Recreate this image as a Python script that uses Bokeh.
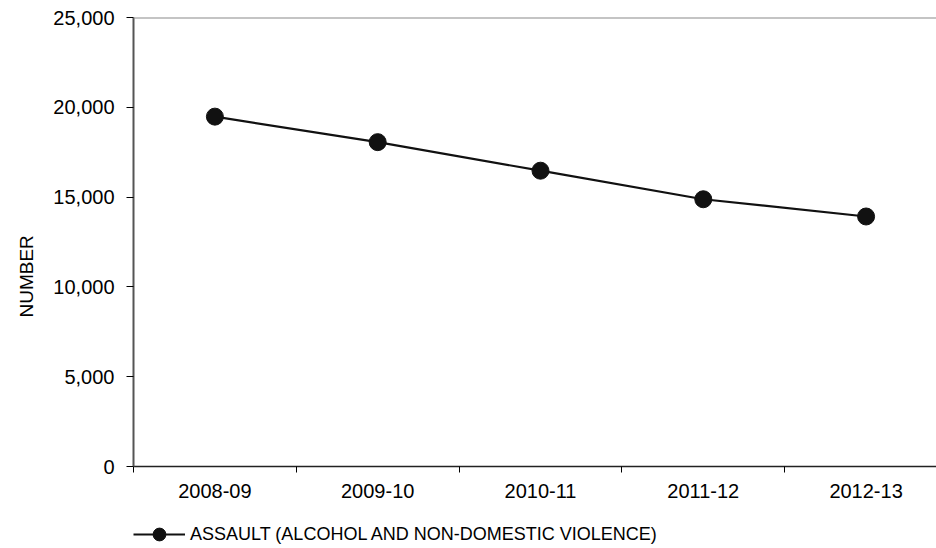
import numpy as np
from bokeh.plotting import figure
from bokeh.layouts import column
from bokeh.models import (Range1d, FixedTicker, NumeralTickFormatter, Span, Title,
                          Legend, LegendItem)
from bokeh.embed import file_html
from bokeh.resources import INLINE

# ---- data ----
categories = ["2008-09", "2009-10", "2010-11", "2011-12", "2012-13"]
assault = [19480, 18060, 16470, 14880, 13920]
series_name = "ASSAULT (ALCOHOL AND NON-DOMESTIC VIOLENCE)"
y_ticks = [0, 5000, 10000, 15000, 20000, 25000]
y_title = "NUMBER"

FONT = "Liberation Sans"
FS = "20px"
INK = "#111111"

xpos = np.arange(len(categories)) + 0.5
boundaries = list(np.arange(0, len(categories) + 1))

MAIN_H = 500
p = figure(width=936, height=MAIN_H, output_backend="svg", toolbar_location=None,
           x_range=Range1d(0, 804 / 163.0), y_range=Range1d(0, 25000),
           min_border_left=132, min_border_right=0, min_border_top=17,
           min_border_bottom=MAIN_H - 466)
p.outline_line_color = None
p.background_fill_color = "white"
p.border_fill_color = "white"
p.xgrid.visible = False
p.ygrid.visible = False

# top border of the plot area
p.add_layout(Span(location=25000, dimension="width", line_color="#8a8a8a", line_width=2))

line_r = p.line(xpos, assault, line_color=INK, line_width=2.2)
pts_r = p.scatter(xpos, assault, size=17, fill_color=INK, line_color=INK)

# x axis
xa = p.xaxis[0]
xa.ticker = FixedTicker(ticks=list(xpos), minor_ticks=boundaries)
xa.major_label_overrides = {float(x): c for x, c in zip(xpos, categories)}
xa.major_tick_out = 0
xa.major_tick_in = 0
xa.minor_tick_out = 6
xa.minor_tick_in = 0
xa.minor_tick_line_color = "black"
xa.axis_line_color = "#222222"
xa.axis_line_width = 1.5
xa.major_label_standoff = 11
xa.major_label_text_font = FONT
xa.major_label_text_font_size = FS
xa.major_label_text_color = "black"

# y axis
ya = p.yaxis[0]
ya.ticker = FixedTicker(ticks=y_ticks)
ya.formatter = NumeralTickFormatter(format="0,0")
ya.major_tick_out = 7
ya.major_tick_in = 0
ya.minor_tick_line_color = None
ya.axis_line_color = "#555555"
ya.axis_line_width = 2
ya.major_label_standoff = 12
ya.major_label_text_font = FONT
ya.major_label_text_font_size = FS
ya.major_label_text_color = "black"

# y axis title
p.add_layout(Title(text=y_title, align="left", offset=149, standoff=27,
                   text_font=FONT, text_font_size="19px", text_font_style="normal",
                   text_color="black"), "left")

# ---- legend strip below ----
LEG_H = 548 - MAIN_H
q = figure(width=936, height=LEG_H, output_backend="svg", toolbar_location=None,
           x_range=Range1d(1000, 1001), y_range=Range1d(0, 1),
           min_border=0, x_axis_type=None, y_axis_type=None)
q.outline_line_color = None
q.xgrid.visible = False
q.ygrid.visible = False
lq = q.line(xpos, assault, line_color=INK, line_width=2.2)
sq = q.scatter(xpos, assault, size=17, fill_color=INK, line_color=INK)
legend = Legend(items=[LegendItem(label=series_name, renderers=[lq, sq])],
                orientation="horizontal", location=(0, -2),
                border_line_color=None, background_fill_alpha=0,
                glyph_width=52, glyph_height=32, label_standoff=5,
                padding=0, margin=0, spacing=0,
                label_text_font=FONT, label_text_font_size="18px",
                label_text_color="black")
q.add_layout(legend)

layout = column(p, q, spacing=0)
open("out.html", "w").write(file_html(layout, INLINE))
